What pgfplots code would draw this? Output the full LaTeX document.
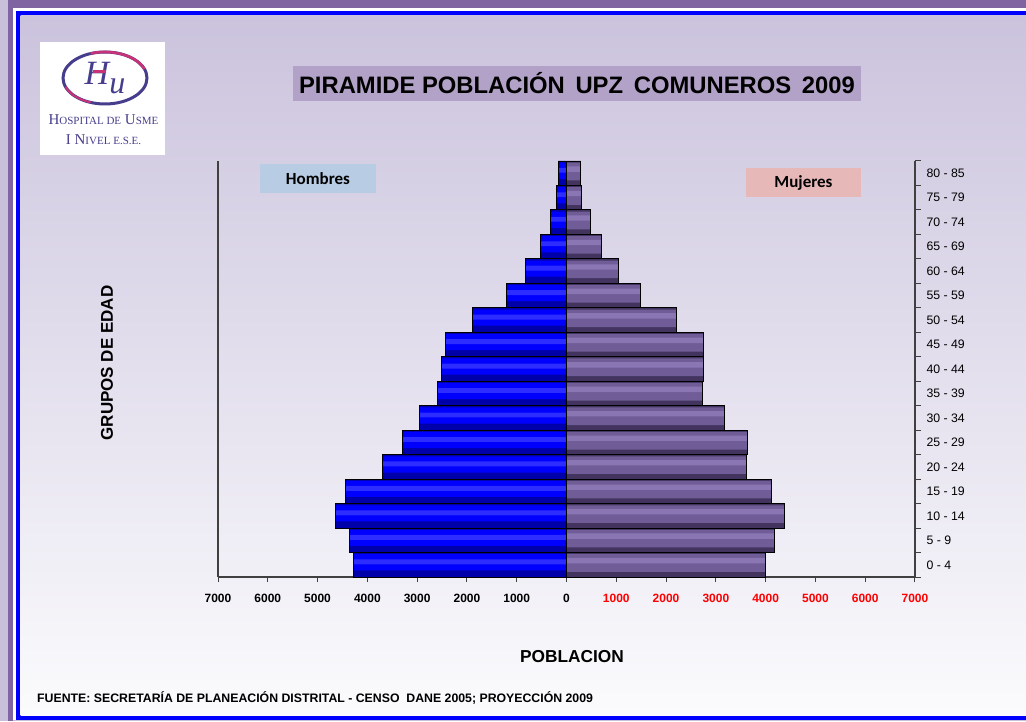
\documentclass[border=0pt]{standalone}
\usepackage{pgfplots}
\pgfplotsset{compat=1.18}
\usepackage{pgfplotstable}
\usepackage{fontspec}
\setmainfont{Liberation Sans}
\newfontfamily\calibri{Carlito}
\newfontfamily\logoserif{Liberation Serif}

\definecolor{bglav}{RGB}{200,192,219}
\definecolor{frameviolet}{RGB}{128,100,162}
\definecolor{framblue}{RGB}{0,0,255}
\definecolor{bgtop}{RGB}{203,195,221}
\definecolor{bgmid}{RGB}{229,225,238}
\definecolor{bgbot}{RGB}{251,251,253}
\definecolor{titlebox}{RGB}{179,162,199}
\definecolor{hbox}{RGB}{184,204,228}
\definecolor{mbox}{RGB}{230,185,184}
\definecolor{maleDark}{RGB}{0,0,170}
\definecolor{maleMid}{RGB}{0,0,255}
\definecolor{maleLight}{RGB}{45,45,255}
\definecolor{femDark}{RGB}{66,52,94}
\definecolor{femMid}{RGB}{112,92,150}
\definecolor{femLight}{RGB}{138,118,178}
\definecolor{logoblue}{RGB}{70,62,140}
\definecolor{logopink}{RGB}{200,50,120}

% population by five-year age group (0 = 0-4 ... 16 = 80-85)
\pgfplotstableread{
g h m
0 4270 4000
1 4355 4185
2 4640 4370
3 4440 4115
4 3705 3605
5 3290 3640
6 2950 3170
7 2590 2730
8 2515 2745
9 2440 2750
10 1890 2215
11 1215 1480
12 825 1040
13 520 700
14 320 490
15 200 310
16 170 290
}\piramide

\begin{document}
\begin{tikzpicture}[x=1pt,y=1pt]
\useasboundingbox (0,0) rectangle (1026,721);
% frame
\fill[bglav] (0,0) rectangle (1026,721);
\fill[frameviolet] (8,713) rectangle (1026,721);
\fill[frameviolet] (8,0) rectangle (13.3,721);
\fill[white] (13.3,1) rectangle (1026,713);
\fill[framblue] (15.7,1) rectangle (1026,710);
\shade[top color=bgtop, middle color=bgmid, bottom color=bgbot] (20.7,6) rectangle (1026,705.3);

% logo
\fill[white] (40,566) rectangle (165,679);
\draw[logoblue, line width=3pt] (105,643) ellipse [x radius=42, y radius=26];
\draw[logopink, line width=2.6pt] (105,643) ++(20:42 and 26) arc [start angle=20, end angle=110, x radius=42, y radius=26];
\draw[logopink, line width=2pt] (105,643) ++(200:42 and 26) arc [start angle=200, end angle=250, x radius=42, y radius=26];
\node[logoblue, inner sep=0] at (105,643)
  {\logoserif\itshape\fontsize{34}{34}\selectfont H\raisebox{-9pt}{\fontsize{32}{32}\selectfont u}};
\fill[logopink] (93,648) rectangle (106,651);
\node[logoblue] at (103.5,601) {\logoserif\fontsize{15}{15}\selectfont H{\fontsize{11}{11}\selectfont OSPITAL DE} U{\fontsize{11}{11}\selectfont SME}};
\node[logoblue] at (103.5,581) {\logoserif\fontsize{15}{15}\selectfont I N{\fontsize{11}{11}\selectfont IVEL E.S.E.}};

% title
\node[fill=titlebox, minimum width=568, minimum height=35, inner sep=0] at (577,637.5)
  {\bfseries\fontsize{23.8}{24}\selectfont PIRAMIDE POBLACIÓN\hspace{0.45em}UPZ\hspace{0.45em}COMUNEROS\hspace{0.45em}2009};

\begin{axis}[
  at={(218pt,144pt)}, anchor=south west,
  scale only axis, width=697pt, height=416pt,
  xmin=-7000, xmax=7000, ymin=-0.5, ymax=16.5,
  clip=false,
  axis x line*=bottom, axis y line*=right,
  axis line style={black!75, line width=1.1pt},
  tick style={black!75, line width=1pt},
  tick align=outside,
  major tick length=5pt, minor tick length=6pt,
  xtick={-7000,-6000,-5000,-4000,-3000,-2000,-1000,0,1000,2000,3000,4000,5000,6000,7000},
  xticklabels={7000,6000,5000,4000,3000,2000,1000,0,
    \textcolor{red}{1000},\textcolor{red}{2000},\textcolor{red}{3000},\textcolor{red}{4000},
    \textcolor{red}{5000},\textcolor{red}{6000},\textcolor{red}{7000}},
  xticklabel style={font=\bfseries\fontsize{12}{12}\selectfont, yshift=-9pt},
  ytick={0,...,16},
  yticklabels={0 - 4,5 - 9,10 - 14,15 - 19,20 - 24,25 - 29,30 - 34,35 - 39,40 - 44,
    45 - 49,50 - 54,55 - 59,60 - 64,65 - 69,70 - 74,75 - 79,80 - 85},
  yticklabel style={font=\fontsize{12.3}{13}\selectfont, xshift=3pt},
  major y tick style={draw=none},
  minor ytick={-0.5,0.5,...,16.5},
  xbar, bar width=1, bar shift=0,
]
% hombres: dark base, bright body, light band, outline
\addplot[draw=none, fill=maleDark] table[x expr=-\thisrow{h}, y=g]{\piramide};
\addplot[draw=none, fill=maleMid, bar width=0.66, bar shift=0.1] table[x expr=-\thisrow{h}, y=g]{\piramide};
\addplot[draw=none, fill=maleLight, bar width=0.2, bar shift=0.12] table[x expr=-\thisrow{h}, y=g]{\piramide};
\addplot[draw=black, line width=0.9pt, fill=none] table[x expr=-\thisrow{h}, y=g]{\piramide};
% mujeres
\addplot[draw=none, fill=femDark] table[x=m, y=g]{\piramide};
\addplot[draw=none, fill=femMid, bar width=0.72, bar shift=0.07] table[x=m, y=g]{\piramide};
\addplot[draw=none, fill=femLight, bar width=0.22, bar shift=0.17] table[x=m, y=g]{\piramide};
\addplot[draw=black, line width=0.9pt, fill=none] table[x=m, y=g]{\piramide};
% left frame line of the plot area
\draw[black!75, line width=1.1pt] (axis cs:-7000,-0.5) -- (axis cs:-7000,16.5);
\end{axis}

% series captions
\node[fill=hbox, minimum width=116, minimum height=29, inner sep=0] at (318,542.5)
  {\calibri\bfseries\fontsize{17}{17}\selectfont Hombres};
\node[fill=mbox, minimum width=115, minimum height=29, inner sep=0] at (803.5,538.5)
  {\calibri\bfseries\fontsize{17}{17}\selectfont Mujeres};

% axis titles
\node[rotate=90] at (107,358) {\bfseries\fontsize{17}{17}\selectfont GRUPOS DE EDAD};
\node at (572,64) {\bfseries\fontsize{17.3}{17.3}\selectfont POBLACION};

% source
\node[anchor=west, inner sep=0] at (37,23)
  {\bfseries\fontsize{12.3}{12.5}\selectfont FUENTE: SECRETARÍA DE PLANEACIÓN DISTRITAL - CENSO\ \ DANE 2005; PROYECCIÓN 2009};
\end{tikzpicture}
\end{document}
